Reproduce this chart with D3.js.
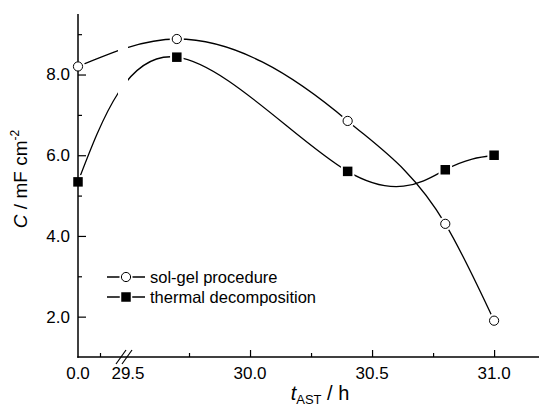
<!DOCTYPE html>
<html>
<head>
<meta charset="utf-8">
<script src="https://cdn.jsdelivr.net/npm/d3@7"></script>
<style>
  html, body { margin: 0; padding: 0; background: #fff; }
  svg { display: block; }
  text { font-family: "Liberation Sans", Arial, sans-serif; fill: #000; }
</style>
</head>
<body>
<svg id="chart" width="539" height="407"></svg>
<script>
// ---- data ----
const solGelX = [0.0, 29.7, 30.4, 30.8, 31.0];
const solGelC = [8.2, 8.88, 6.85, 4.3, 1.9];
const thermalX = [0.0, 29.7, 30.4, 30.8, 31.0];
const thermalC = [5.34, 8.43, 5.6, 5.64, 6.0];
const seriesNames = ["sol-gel procedure", "thermal decomposition"];
const yMajorTicks = [2, 4, 6, 8];
const yMinorTicks = [3, 5, 7, 9];
const xMajorTicksRight = [30.0, 30.5, 31.0];
const xMinorTicksRight = [29.75, 30.25, 30.75];
const xMinorTicksLeft = [0.1];
const xLabelTicks = [0.0, 29.5, 30.0, 30.5, 31.0];

// ---- layout ----
const svg = d3.select("#chart");
const axisX0 = 78, axisY0 = 357;
const y = d3.scaleLinear().domain([1, 9.5]).range([357, 14]);
const xL = d3.scaleLinear().domain([0, 0.2]).range([78, 122]);
const xR = d3.scaleLinear().domain([29.5, 31.184]).range([128, 539]);
const x = v => (v < 10 ? xL(v) : xR(v));
const breakL = 118, breakR = 128;

// clip for break gap
const defs = svg.append("defs");
const cp = defs.append("clipPath").attr("id", "brk");
cp.append("rect").attr("x", 0).attr("y", 0).attr("width", breakL).attr("height", 407);
cp.append("rect").attr("x", breakR).attr("y", 0).attr("width", 539 - breakR).attr("height", 407);

// ---- curves ----
const sg = solGelX.map((v, i) => [x(v), y(solGelC[i])]);
const th = thermalX.map((v, i) => [x(v), y(thermalC[i])]);
const lineSG = d3.line().x(d => d[0]).y(d => d[1]).curve(d3.curveMonotoneX);
const lineTH = d3.line().x(d => d[0]).y(d => d[1]).curve(d3.curveNatural);

const gLines = svg.append("g").attr("clip-path", "url(#brk)");
gLines.append("path").attr("d", lineSG(sg))
  .attr("fill", "none").attr("stroke", "#000").attr("stroke-width", 1.3);
gLines.append("path").attr("d", lineTH(th))
  .attr("fill", "none").attr("stroke", "#000").attr("stroke-width", 1.3);

// halos + markers
const r = 4.6, sq = 9.5;
svg.append("g").selectAll("circle").data(sg).join("circle")
  .attr("cx", d => d[0]).attr("cy", d => d[1]).attr("r", r + 2.5).attr("fill", "#fff");
svg.append("g").selectAll("rect").data(th).join("rect")
  .attr("x", d => d[0] - sq / 2 - 2).attr("y", d => d[1] - sq / 2 - 2)
  .attr("width", sq + 4).attr("height", sq + 4).attr("fill", "#fff");

// ---- axes ----
const gAx = svg.append("g");
gAx.append("line").attr("x1", axisX0).attr("x2", axisX0).attr("y1", y(9.5)).attr("y2", axisY0 + 0.75)
  .attr("stroke", "#000").attr("stroke-width", 1.5);
gAx.append("line").attr("x1", axisX0 - 0.75).attr("x2", 539).attr("y1", axisY0).attr("y2", axisY0)
  .attr("stroke", "#000").attr("stroke-width", 1.5);

const styleAxis = g => {
  g.select(".domain").remove();
  g.selectAll(".tick line").attr("stroke", "#000").attr("stroke-width", 1.2);
  g.selectAll(".tick text").style("font-size", "17px").style("font-family", "'Liberation Sans', Arial, sans-serif");
};

svg.append("g").attr("transform", `translate(${axisX0},0)`)
  .call(d3.axisLeft(y).tickValues(yMajorTicks).tickSize(-8).tickPadding(8).tickFormat(d3.format(".1f")))
  .call(styleAxis);
svg.append("g").attr("transform", `translate(${axisX0},0)`)
  .call(d3.axisLeft(y).tickValues(yMinorTicks).tickSize(-4).tickFormat(""))
  .call(styleAxis);

svg.append("g").attr("transform", `translate(0,${axisY0})`)
  .call(d3.axisBottom(xR).tickValues(xMajorTicksRight).tickSize(-7).tickPadding(10).tickFormat(""))
  .call(styleAxis);
svg.append("g").attr("transform", `translate(0,${axisY0})`)
  .call(d3.axisBottom(xR).tickValues(xMinorTicksRight).tickSize(-4).tickFormat(""))
  .call(styleAxis);
svg.append("g").attr("transform", `translate(0,${axisY0})`)
  .call(d3.axisBottom(xL).tickValues(xMinorTicksLeft).tickSize(-4).tickFormat(""))
  .call(styleAxis);

svg.append("g").selectAll("text").data(xLabelTicks).join("text")
  .attr("x", d => x(d)).attr("y", 378.5).attr("text-anchor", "middle")
  .style("font-size", "17px").text(d => d.toFixed(1));

// break marks
[[116, 126], [122, 132]].forEach(([a, b]) => {
  svg.append("line").attr("x1", a).attr("y1", 364).attr("x2", b).attr("y2", 350)
    .attr("stroke", "#000").attr("stroke-width", 1.2);
});

// markers
svg.append("g").selectAll("circle").data(sg).join("circle")
  .attr("cx", d => d[0]).attr("cy", d => d[1]).attr("r", r)
  .attr("fill", "#fff").attr("stroke", "#000").attr("stroke-width", 1);
svg.append("g").selectAll("rect").data(th).join("rect")
  .attr("x", d => d[0] - sq / 2).attr("y", d => d[1] - sq / 2)
  .attr("width", sq).attr("height", sq).attr("fill", "#000");

// ---- legend ----
const lg = svg.append("g");
const legY = [277, 297];
legY.forEach((ly, i) => {
  lg.append("line").attr("x1", 107).attr("x2", 145).attr("y1", ly).attr("y2", ly)
    .attr("stroke", "#000").attr("stroke-width", 1.3);
  if (i === 0) {
    lg.append("circle").attr("cx", 126).attr("cy", ly).attr("r", r + 2).attr("fill", "#fff");
    lg.append("circle").attr("cx", 126).attr("cy", ly).attr("r", r)
      .attr("fill", "#fff").attr("stroke", "#000").attr("stroke-width", 1);
  } else {
    lg.append("rect").attr("x", 126 - sq / 2 - 1.5).attr("y", ly - sq / 2 - 1.5)
      .attr("width", sq + 3).attr("height", sq + 3).attr("fill", "#fff");
    lg.append("rect").attr("x", 126 - sq / 2).attr("y", ly - sq / 2)
      .attr("width", sq).attr("height", sq).attr("fill", "#000");
  }
  lg.append("text").attr("x", 150).attr("y", ly + 6).style("font-size", "16.5px").text(seriesNames[i]);
});

// ---- axis titles ----
const yt = svg.append("text").attr("transform", "translate(27,179) rotate(-90)")
  .attr("text-anchor", "middle").style("font-size", "19px");
yt.append("tspan").style("font-style", "italic").text("C");
yt.append("tspan").text(" / mF cm");
yt.append("tspan").attr("dy", -8).style("font-size", "12px").text("-2");

const xt = svg.append("text").attr("x", 320).attr("y", 400)
  .attr("text-anchor", "middle").style("font-size", "20px");
xt.append("tspan").style("font-style", "italic").text("t");
xt.append("tspan").attr("dy", 4).style("font-size", "13px").text("AST");
xt.append("tspan").attr("dy", -4).text(" / h");
</script>
</body>
</html>
